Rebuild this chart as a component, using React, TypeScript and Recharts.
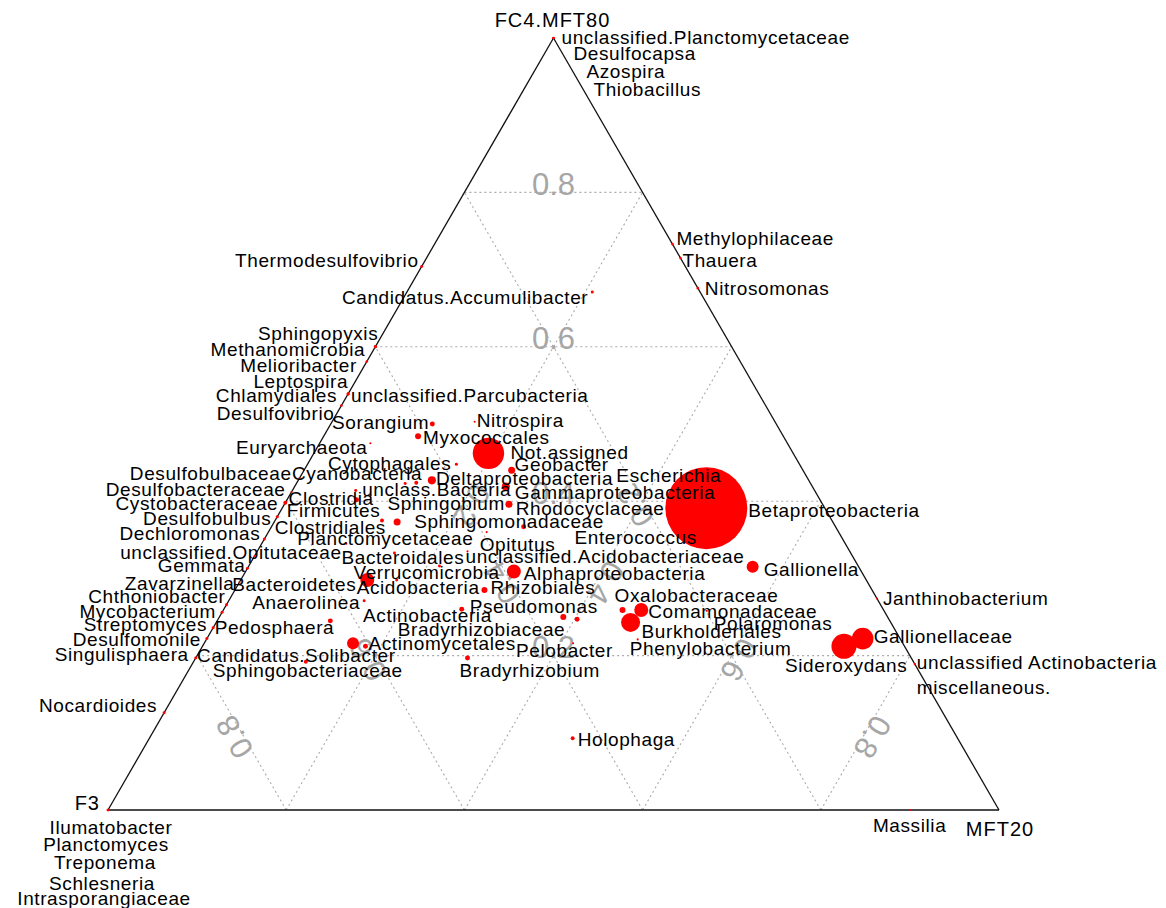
import React from "react";
import {
  ScatterChart,
  Scatter,
  XAxis,
  YAxis,
  ZAxis,
  ReferenceLine,
} from "recharts";

// taxa shown in the ternary plot (F3 / FC4.MFT80 / MFT20)
const taxa = [
  "unclassified.Planctomycetaceae", "Desulfocapsa", "Azospira", "Thiobacillus",
  "Thermodesulfovibrio", "Candidatus.Accumulibacter", "Methylophilaceae", "Thauera",
  "Nitrosomonas", "Sphingopyxis", "Methanomicrobia", "Melioribacter", "Leptospira",
  "Chlamydiales", "unclassified.Parcubacteria", "Desulfovibrio", "Sorangium", "Nitrospira",
  "Myxococcales", "Euryarchaeota", "Not.assigned", "Cytophagales", "Geobacter",
  "Deltaproteobacteria", "Escherichia", "Cyanobacteria", "unclass.Bacteria",
  "Gammaproteobacteria", "Desulfobulbaceae", "Desulfobacteraceae", "Cystobacteraceae",
  "Firmicutes", "Clostridia", "Sphingobium", "Rhodocyclaceae", "Betaproteobacteria",
  "Desulfobulbus", "Clostridiales", "Sphingomonadaceae", "Enterococcus", "Opitutus",
  "Dechloromonas", "Planctomycetaceae", "unclassified.Acidobacteriaceae", "Bacteroidales",
  "Verrucomicrobia", "Gemmata", "unclassified.Opitutaceae", "Zavarzinella", "Acidobacteria",
  "Bacteroidetes", "Alphaproteobacteria", "Gallionella", "Rhizobiales", "Janthinobacterium",
  "Anaerolinea", "Chthoniobacter", "Pseudomonas", "Oxalobacteraceae", "Comamonadaceae",
  "Polaromonas", "Mycobacterium", "Bradyrhizobiaceae", "Pelobacter", "Pedosphaera",
  "Burkholderiales", "Streptomyces", "Gallionellaceae", "Desulfomonile", "Phenylobacterium",
  "Actinobacteria", "Actinomycetales", "Sideroxydans", "Singulisphaera",
  "Candidatus.Solibacter", "Bradyrhizobium", "Sphingobacteriaceae",
  "unclassified Actinobacteria", "miscellaneous.", "Nocardioides", "Holophaga", "Massilia",
  "Ilumatobacter", "Planctomyces", "Treponema", "Schlesneria", "Intrasporangiaceae",
];

// share in FC4.MFT80
const fc4 = [
  1, 1, 1, 1, 0.704, 0.671, 0.733, 0.715, 0.676, 0.6, 0.6, 0.581, 0.539, 0.539, 0.539,
  0.524, 0.5, 0.503, 0.484, 0.475, 0.462, 0.448, 0.44, 0.427, 0.433, 0.424, 0.423, 0.419,
  0.43, 0.412, 0.398, 0.414, 0.402, 0.396, 0.367, 0.391, 0.38, 0.375, 0.373, 0.367, 0.36,
  0.351, 0.345, 0.335, 0.333, 0.316, 0.313, 0.329, 0.295, 0.298, 0.298, 0.309, 0.315,
  0.285, 0.274, 0.271, 0.266, 0.26, 0.259, 0.259, 0.258, 0.256, 0.25, 0.216, 0.245, 0.243,
  0.236, 0.222, 0.222, 0.221, 0.216, 0.212, 0.212, 0.197, 0.247, 0.197, 0.192, 0.189,
  0.189, 0.126, 0.093, 0, 0, 0, 0, 0, 0,
];

// share in MFT20 (F3 = 1 - fc4 - mft20)
const mft20 = [
  0, 0, 0, 0, 0, 0.208, 0.267, 0.285, 0.324, 0, 0, 0, 0, 0, 0, 0, 0.114, 0.16, 0.106,
  0.057, 0.196, 0.167, 0.233, 0.15, 0.326, 0.134, 0.122, 0.237, 0, 0, 0, 0.071, 0.078,
  0.252, 0.283, 0.476, 0, 0.12, 0.138, 0.339, 0.245, 0, 0.095, 0.236, 0.155, 0.214, 0, 0,
  0, 0.175, 0.142, 0.301, 0.566, 0.28, 0.726, 0.152, 0, 0.267, 0.448, 0.469, 0.543, 0,
  0.386, 0.414, 0.127, 0.465, 0, 0.736, 0, 0.484, 0.167, 0.183, 0.72, 0, 0.403, 0.305,
  0.126, 0.811, 0.811, 0, 0.475, 0.9, 0, 0, 0, 0, 0,
];

// mean relative abundance (%)
const abundance = [
  0.03, 0.02, 0.02, 0.02, 0.04, 0.04, 0.03, 0.03, 0.03, 0.04, 0.04, 0.03, 0.04, 0.04, 0.03,
  0.03, 0.11, 0.02, 0.16, 0.02, 4.4, 0.04, 0.22, 0.29, 0.02, 0.07, 0.04, 0.29, 0.02, 0.02,
  0.07, 0.04, 0.11, 0.22, 0.11, 30, 0.04, 0.07, 0.22, 0.02, 0.02, 0.04, 0.02, 0.02, 0.04,
  0.04, 0.04, 0.02, 0.02, 0.04, 0.87, 0.87, 0.64, 0.16, 0.02, 0.04, 0.04, 0.11, 0.16, 0.87,
  0.02, 0.04, 0.16, 0.02, 0.11, 1.61, 0.04, 2.08, 0.04, 0.02, 0.64, 0.11, 2.79, 0.04, 0.11,
  0.11, 0.07, 0.02, 0.02, 0.04, 0.07, 0.02, 0.04, 0.02, 0.02, 0.02, 0.02,
];

// label placement relative to the point (px) and text anchor
const labelDx = [
  8, 20, 33, 40, -3, -4, 4, 2, 7, 3, -10, -10, 0, -11, 3, -7, -3, 2, 5, -3, 22, -5, 3, 4,
  25, 6, -43, 9, -8, -6, -7, -69, -68, -4, -8, 42, -6, 4, 17, 1, -7, -4, -49, -2, -53, -86,
  -2, 87, -5, -40, -11, 10, 11, 6, 6, -4, -1, 8, -8, 7, 7, -6, 2, -57, 4, 11, -6, 11, -6,
  -8, 10, 3, -59, -7, -380, -8, -93, 2, 2, -7, 5, -37, 3, -2, -3, -6, -4,
];
const labelDy = [
  -1, 15, 33, 51, -6, 6, -6, 2, 0, -13, 3, 4, -12, 2, 2, 8, -2, -1, 1, 4, -1, -1, -6, -2,
  0, -9, 6, 6, -5, -2, 1, 20, -1, -1, -18, 2, 2, 7, -1, 11, 12, -6, -5, 5, 5, 6, -3, -4, 1,
  8, 5, 2, 3, -2, 0, 2, -8, -3, -15, 1, 13, -1, 12, 7, 7, 9, -3, -2, 1, 9, -28, -3, 19, -3,
  36, 13, 9, -2, 23, -7, 1, 15, 17, 34, 52, 73, 88,
];
const labelAnchor = [
  "s", "s", "s", "s", "e", "e", "s", "s", "s", "e", "e", "e", "e", "e", "s", "e", "e", "s",
  "s", "e", "s", "e", "s", "s", "s", "e", "s", "s", "e", "e", "e", "s", "s", "e", "s", "s",
  "e", "e", "s", "s", "s", "e", "s", "s", "s", "s", "e", "e", "e", "s", "e", "s", "s", "s",
  "s", "e", "e", "s", "s", "s", "s", "e", "e", "s", "e", "s", "e", "s", "e", "s", "s", "s",
  "s", "e", "s", "s", "s", "s", "s", "e", "s", "s", "m", "m", "m", "m", "m",
];

const gridValues = [0.2, 0.4, 0.6, 0.8];
const vertexNames = ["FC4.MFT80", "F3", "MFT20"];

const FONT = "'Liberation Sans', Arial, Helvetica, sans-serif";
const anchorMap: Record<string, "start" | "end" | "middle"> = {
  s: "start",
  e: "end",
  m: "middle",
};

// ternary -> cartesian (x along base, y = FC4.MFT80 share)
const points = taxa.map((name, i) => ({
  name,
  x: mft20[i] + fc4[i] / 2,
  y: fc4[i],
  abund: abundance[i],
  dx: labelDx[i],
  dy: labelDy[i],
  anchor: labelAnchor[i],
}));

const gridSegments = gridValues.flatMap((v) => [
  [v / 2, v, 1 - v / 2, v],
  [1 - v, 0, (1 - v) / 2, 1 - v],
  [v, 0, (1 + v) / 2, 1 - v],
]);

const edges = [
  [0, 0, 1, 0],
  [0, 0, 0.5, 1],
  [1, 0, 0.5, 1],
];

const tickData = gridValues.flatMap((v) => [
  { x: 0.5, y: v, text: v.toFixed(1), rot: 0 },
  { x: 0.75 * (1 - v), y: (1 - v) / 2, text: v.toFixed(1), rot: -120 },
  { x: (3 * v + 1) / 4, y: (1 - v) / 2, text: v.toFixed(1), rot: 120 },
]);

const vertexData = [
  { x: 0.5, y: 1, text: vertexNames[0], dx: -1, dy: -18, anchor: "m" },
  { x: 0, y: 0, text: vertexNames[1], dx: -8, dy: -7, anchor: "e" },
  { x: 1, y: 0, text: vertexNames[2], dx: 1, dy: 19, anchor: "m" },
];

const Bubble = (props: any) => {
  const { cx, cy, width } = props;
  if (cx == null || cy == null) return <g />;
  return <circle cx={cx} cy={cy} r={Math.max((width || 0) / 2, 1)} fill="#FF0000" />;
};

const TaxonLabel = (props: any) => {
  const { cx, cy, payload } = props;
  if (cx == null || cy == null) return <g />;
  return (
    <text
      x={cx + payload.dx}
      y={cy + payload.dy}
      textAnchor={anchorMap[payload.anchor]}
      dominantBaseline="central"
      fontFamily={FONT}
      fontSize={19}
      letterSpacing={0.6}
      fill="#000"
    >
      {payload.name}
    </text>
  );
};

const TickLabel = (props: any) => {
  const { cx, cy, payload } = props;
  if (cx == null || cy == null) return <g />;
  return (
    <text
      transform={`translate(${cx},${cy}) rotate(${payload.rot})`}
      x={0}
      y={-8}
      textAnchor="middle"
      dominantBaseline="central"
      fontFamily={FONT}
      fontSize={31}
      fill="#A6A6A6"
    >
      {payload.text}
    </text>
  );
};

const VertexTitle = (props: any) => {
  const { cx, cy, payload } = props;
  if (cx == null || cy == null) return <g />;
  return (
    <text
      x={cx + payload.dx}
      y={cy + payload.dy}
      textAnchor={anchorMap[payload.anchor]}
      dominantBaseline="central"
      fontFamily={FONT}
      fontSize={20}
      letterSpacing={1}
      fill="#000"
    >
      {payload.text}
    </text>
  );
};

const App: React.FC = () => {
  return (
    <div style={{ width: 1158, height: 900, background: "#fff" }}>
      <ScatterChart
        width={1158}
        height={900}
        margin={{ top: 30, right: 167, bottom: 98, left: 100 }}
      >
        <XAxis type="number" dataKey="x" domain={[0, 1]} hide />
        <YAxis type="number" dataKey="y" domain={[0, 1]} hide />
        <ZAxis type="number" dataKey="abund" domain={[0, 30]} range={[0, 5281]} />
        {gridSegments.map((s, i) => (
          <ReferenceLine
            key={`g${i}`}
            segment={[
              { x: s[0], y: s[1] },
              { x: s[2], y: s[3] },
            ]}
            stroke="#ABABAB"
            strokeWidth={1.1}
            strokeDasharray="2 3"
            ifOverflow="visible"
          />
        ))}
        <Scatter data={tickData} shape={TickLabel} isAnimationActive={false} />
        {edges.map((s, i) => (
          <ReferenceLine
            key={`e${i}`}
            segment={[
              { x: s[0], y: s[1] },
              { x: s[2], y: s[3] },
            ]}
            stroke="#111"
            strokeWidth={1.3}
            ifOverflow="visible"
          />
        ))}
        <Scatter data={points} shape={Bubble} isAnimationActive={false} />
        <Scatter data={points} shape={TaxonLabel} isAnimationActive={false} />
        <Scatter data={vertexData} shape={VertexTitle} isAnimationActive={false} />
      </ScatterChart>
    </div>
  );
};

export default App;
